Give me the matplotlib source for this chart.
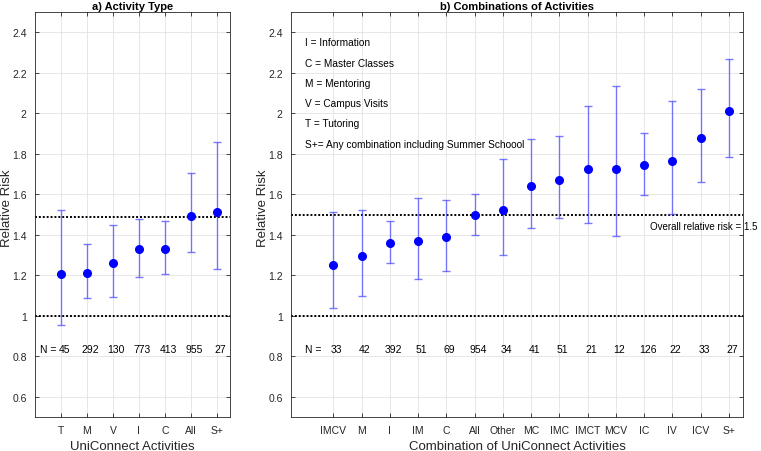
import numpy as np
import matplotlib
matplotlib.use("Agg")
import matplotlib.pyplot as plt

plt.rcParams.update({
    "font.family": ["Liberation Sans", "DejaVu Sans"],
    "font.size": 7.5,
    "axes.edgecolor": "#262626",
    "axes.linewidth": 0.6,
    "xtick.color": "#262626",
    "ytick.color": "#262626",
})

# ---- panel a: activity type ----
act_labels = ["T", "M", "V", "I", "C", "All", "S+"]
act_rr = [1.205, 1.211, 1.259, 1.328, 1.331, 1.493, 1.513]
act_lo = [0.956, 1.087, 1.092, 1.193, 1.205, 1.313, 1.229]
act_hi = [1.522, 1.352, 1.447, 1.480, 1.470, 1.703, 1.860]
act_n = [45, 292, 130, 773, 413, 955, 27]
act_overall = 1.49

# ---- panel b: combinations ----
comb_labels = ["IMCV", "M", "I", "IM", "C", "All", "Other", "MC", "IMC",
               "IMCT", "MCV", "IC", "IV", "ICV", "S+"]
comb_rr = [1.252, 1.293, 1.359, 1.369, 1.387, 1.498, 1.521, 1.639, 1.672,
           1.724, 1.724, 1.744, 1.762, 1.880, 2.009]
comb_lo = [1.038, 1.097, 1.259, 1.183, 1.221, 1.400, 1.301, 1.434, 1.485,
           1.460, 1.392, 1.598, 1.505, 1.662, 1.785]
comb_hi = [1.514, 1.524, 1.468, 1.581, 1.573, 1.603, 1.776, 1.873, 1.886,
           2.035, 2.134, 1.901, 2.063, 2.122, 2.266]
comb_n = [33, 42, 392, 51, 69, 954, 34, 41, 51, 21, 12, 126, 22, 33, 27]
comb_overall = 1.5

key_lines = ["I = Information", "C = Master Classes", "M = Mentoring",
             "V = Campus Visits", "T = Tutoring",
             "S+= Any combination including Summer Schoool"]

W, H = 761, 452
fig = plt.figure(figsize=(W / 100, H / 100), dpi=100)
ax_a = fig.add_axes([0.046, 0.0752, 0.256, 0.896])
ax_b = fig.add_axes([0.3824, 0.0752, 0.5939, 0.896])


def draw_panel(ax, labels, rr, lo, hi, counts, overall, xlim, n_x, title, xlabel, ylab_px):
    x = np.arange(1, len(labels) + 1)
    rr = np.array(rr)
    yerr = [rr - np.array(lo), np.array(hi) - rr]
    ax.errorbar(x, rr, yerr=yerr, fmt="none", ecolor="#4d4dff", alpha=0.75,
                elinewidth=1.0, capsize=3, capthick=1.0, zorder=3)
    ax.plot(x, rr, "o", color="#0000ff", markersize=5.5, zorder=4)
    ax.axhline(1.0, color="black", linestyle=(0, (1, 1)), linewidth=1.4, zorder=2)
    ax.axhline(overall, color="black", linestyle=(0, (1, 1)), linewidth=1.4, zorder=2)
    for xi, n in zip(x, counts):
        ax.text(xi + 0.12, 0.838, str(n), ha="center", va="center", fontsize=7.5)
    ax.text(n_x, 0.838, "N =", ha="center", va="center", fontsize=7.5)

    ax.set_xlim(*xlim)
    ax.set_ylim(0.5, 2.5)
    ax.set_xticks(x)
    ax.set_xticklabels(labels)
    ax.set_yticks(np.arange(0.6, 2.41, 0.2))
    ax.set_yticklabels(["0.6", "0.8", "1", "1.2", "1.4", "1.6", "1.8", "2", "2.2", "2.4"])
    ax.tick_params(direction="in", length=3, width=0.6, top=True, right=True,
                   labelsize=7.5)
    ax.tick_params(axis="x", pad=6)
    ax.tick_params(axis="y", pad=6)
    ax.grid(True, color="#e3e3e3", linewidth=0.6, zorder=0)
    ax.set_axisbelow(True)
    ax.set_title(title, fontsize=8, fontweight="bold", pad=2.5)
    ax.set_xlabel(xlabel, fontsize=9.5, labelpad=3, color="#262626")
    fig.text(ylab_px / W, 1 - 208 / H, "Relative Risk", rotation=90,
             ha="center", va="center", fontsize=9.5, color="#262626")


draw_panel(ax_a, act_labels, act_rr, act_lo, act_hi, act_n, act_overall,
           (0, 7.5), 0.5, "a) Activity Type", "UniConnect Activities", 7.5)
draw_panel(ax_b, comb_labels, comb_rr, comb_lo, comb_hi, comb_n, comb_overall,
           (-0.5, 15.5), 0.28, "b) Combinations of Activities",
           "Combination of UniConnect Activities", 263)

for i, line in enumerate(key_lines):
    ax_b.text(0.0, 2.35 - 0.1 * i, line, ha="left", va="center", fontsize=7.3)

ax_b.text(12.2, 1.445, "Overall relative risk = 1.5", ha="left", va="center",
          fontsize=7, clip_on=False)

fig.savefig("out.png", dpi=100)
